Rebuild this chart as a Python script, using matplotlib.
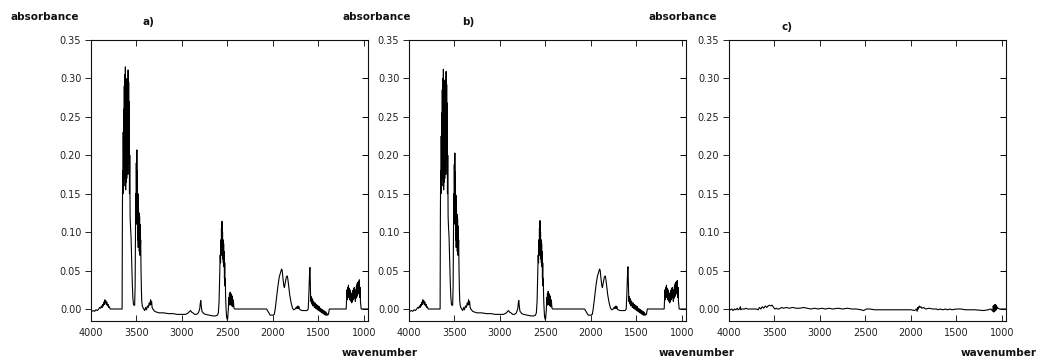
import matplotlib
matplotlib.use("Agg")
import matplotlib.pyplot as plt

# ---------------- data ----------------
wavenumber_ab = [
    # baseline + bump near 3850
    4000, 3990, 3975, 3960, 3945, 3930, 3915, 3905, 3895, 3885, 3878, 3870, 3864, 3858,
    3853, 3848, 3843, 3838, 3832, 3826, 3820, 3812, 3805, 3798, 3790, 3780, 3700, 3662,
    # first band (dense)
    3658, 3655, 3652, 3649, 3646, 3643, 3640, 3637, 3634, 3631, 3628, 3625, 3622, 3619,
    3616, 3613, 3610, 3607, 3604, 3601, 3598, 3595, 3592, 3589, 3586, 3583, 3580, 3577,
    3574, 3570, 3565, 3560, 3555, 3550, 3545, 3540, 3535, 3530, 3525,
    # second band (dense)
    3520, 3515, 3511, 3508, 3505, 3502, 3499, 3496, 3493, 3490, 3487, 3484, 3481, 3478,
    3475, 3472, 3469, 3466, 3463, 3460, 3457, 3454, 3450, 3446, 3442, 3436, 3430,
    # 3420 - 2600
    3420, 3410, 3400, 3390, 3380, 3370, 3360, 3352, 3345, 3340, 3334, 3328, 3320, 3300,
    3280, 3250, 3200, 3150, 3100, 3050, 3000, 2960, 2930, 2915, 2905, 2895, 2880, 2860,
    2840, 2820, 2805, 2798, 2793, 2788, 2780, 2760, 2740, 2700, 2660, 2630, 2610, 2600,
    # band near 2560 (dense)
    2592, 2586, 2580, 2576, 2572, 2569, 2566, 2563, 2560, 2557, 2554, 2551, 2548, 2545,
    2542, 2539, 2536, 2533, 2530, 2527, 2524, 2520, 2515, 2510, 2505, 2498,
    # small band near 2460
    2490, 2485, 2482, 2478, 2474, 2470, 2466, 2462, 2458, 2454, 2450, 2446, 2442, 2436,
    2428, 2420,
    # flat, dip, doublet near 1900
    2070, 2050, 2030, 2000, 1985, 1975, 1960, 1945, 1930, 1915, 1905, 1898, 1890, 1880,
    1874, 1868, 1860, 1852, 1842, 1835, 1825, 1815, 1800, 1785, 1770, 1755, 1745, 1740,
    1735, 1730, 1725, 1720, 1715, 1710, 1700, 1680, 1650, 1625, 1612,
    # sharp band near 1593 and dense decay
    1605, 1600, 1596, 1593, 1590, 1587, 1583, 1580, 1576, 1572, 1568, 1564, 1560, 1556,
    1550, 1544, 1538, 1532, 1526, 1520, 1514, 1508, 1502, 1496, 1490, 1484, 1478, 1472,
    1466, 1460, 1454, 1448, 1442, 1436, 1430, 1424, 1418, 1412, 1406, 1400, 1390, 1380,
    # flat + cluster 1190-1030
    1195, 1190, 1186, 1182, 1178, 1174, 1170, 1166, 1162, 1158, 1154, 1150, 1146, 1142,
    1138, 1134, 1130, 1126, 1122, 1118, 1114, 1110, 1106, 1102, 1098, 1094, 1090, 1086,
    1082, 1078, 1074, 1070, 1066, 1062, 1058, 1054, 1050, 1046, 1042, 1038, 1034, 1030,
    950,
]

absorbance_a = [
    -0.002, -0.003, -0.002, -0.003, -0.001, -0.002, 0.000, 0.002, 0.001, 0.004, 0.002, 0.006, 0.004, 0.009,
    0.006, 0.012, 0.008, 0.011, 0.006, 0.009, 0.004, 0.006, 0.002, 0.003, 0.000, 0.000, 0.000, 0.000,
    0.000, 0.120, 0.180, 0.150, 0.230, 0.170, 0.260, 0.180, 0.290, 0.170, 0.305, 0.160, 0.315, 0.155,
    0.300, 0.165, 0.295, 0.170, 0.290, 0.180, 0.300, 0.175, 0.311, 0.190, 0.295, 0.200, 0.270, 0.150,
    0.200, 0.120, 0.105, 0.095, 0.070, 0.050, 0.030, 0.015, 0.008, 0.005, 0.006,
    0.005, 0.030, 0.090, 0.150, 0.120, 0.190, 0.140, 0.207, 0.110, 0.180, 0.090, 0.150, 0.080, 0.130,
    0.085, 0.125, 0.075, 0.120, 0.070, 0.110, 0.080, 0.090, 0.050, 0.025, 0.010, 0.004, 0.002,
    0.000, -0.002, 0.002, -0.001, 0.004, 0.002, 0.008, 0.005, 0.012, 0.006, 0.010, 0.002, 0.000, -0.003,
    -0.004, -0.005, -0.005, -0.006, -0.006, -0.007, -0.007, -0.007, -0.005, -0.003, -0.002, -0.004, -0.005, -0.007,
    -0.007, -0.005, 0.000, 0.008, 0.011, 0.004, -0.003, -0.006, -0.007, -0.008, -0.009, -0.009, -0.008, -0.005,
    0.010, 0.040, 0.070, 0.060, 0.090, 0.070, 0.105, 0.080, 0.114, 0.075, 0.100, 0.065, 0.090, 0.060,
    0.085, 0.055, 0.075, 0.040, 0.060, 0.030, 0.040, 0.015, 0.000, -0.010, -0.013, -0.013,
    0.000, 0.015, 0.005, 0.020, 0.007, 0.022, 0.006, 0.020, 0.005, 0.018, 0.004, 0.016, 0.003, 0.012,
    0.001, 0.000,
    0.000, -0.004, -0.008, -0.008, -0.007, 0.000, 0.015, 0.030, 0.042, 0.048, 0.052, 0.050, 0.040, 0.030,
    0.028, 0.032, 0.038, 0.042, 0.043, 0.038, 0.028, 0.018, 0.008, 0.001, -0.001, 0.000, 0.002, 0.001,
    0.003, 0.001, 0.004, 0.001, 0.003, 0.000, -0.001, -0.002, -0.002, -0.002, 0.000,
    0.020, 0.040, 0.052, 0.054, 0.040, 0.020, 0.010, 0.016, 0.008, 0.014, 0.006, 0.012, 0.004, 0.010,
    0.009, 0.002, 0.008, 0.001, 0.006, 0.000, 0.005, -0.001, 0.004, -0.002, 0.003, -0.003, 0.001, -0.004,
    0.000, -0.005, -0.001, -0.006, -0.002, -0.007, -0.003, -0.008, -0.004, -0.008, -0.006, -0.008, -0.007, 0.000,
    0.000, 0.015, 0.025, 0.012, 0.028, 0.015, 0.031, 0.018, 0.027, 0.012, 0.025, 0.014, 0.022, 0.010,
    0.020, 0.008, 0.018, 0.010, 0.024, 0.012, 0.026, 0.014, 0.028, 0.015, 0.022, 0.010, 0.025, 0.014,
    0.030, 0.016, 0.033, 0.018, 0.035, 0.020, 0.036, 0.025, 0.038, 0.015, 0.028, 0.010, 0.005, 0.000,
    0.000,
]

# panel b is a replicate measurement of panel a
absorbance_b = [
    -0.002, -0.003, -0.002, -0.003, -0.001, -0.002, 0.000, 0.002, 0.001, 0.004, 0.002, 0.006, 0.004, 0.009,
    0.006, 0.012, 0.008, 0.011, 0.006, 0.009, 0.004, 0.006, 0.002, 0.003, 0.000, 0.000, 0.000, 0.000,
    0.000, 0.120, 0.180, 0.150, 0.225, 0.170, 0.255, 0.180, 0.285, 0.170, 0.300, 0.160, 0.312, 0.155,
    0.298, 0.165, 0.292, 0.170, 0.288, 0.180, 0.298, 0.175, 0.309, 0.190, 0.292, 0.200, 0.268, 0.150,
    0.200, 0.120, 0.105, 0.095, 0.070, 0.050, 0.030, 0.015, 0.008, 0.005, 0.006,
    0.005, 0.030, 0.090, 0.150, 0.120, 0.188, 0.140, 0.203, 0.110, 0.178, 0.090, 0.148, 0.080, 0.128,
    0.085, 0.123, 0.075, 0.118, 0.070, 0.108, 0.080, 0.090, 0.050, 0.025, 0.010, 0.004, 0.002,
    0.000, -0.002, 0.002, -0.001, 0.004, 0.002, 0.008, 0.005, 0.012, 0.006, 0.010, 0.002, 0.000, -0.003,
    -0.004, -0.005, -0.005, -0.006, -0.006, -0.007, -0.007, -0.007, -0.005, -0.003, -0.002, -0.004, -0.005, -0.007,
    -0.007, -0.005, 0.000, 0.008, 0.011, 0.004, -0.003, -0.006, -0.007, -0.008, -0.009, -0.009, -0.008, -0.005,
    0.010, 0.040, 0.070, 0.060, 0.090, 0.070, 0.105, 0.080, 0.115, 0.075, 0.100, 0.065, 0.090, 0.060,
    0.085, 0.055, 0.075, 0.040, 0.060, 0.030, 0.040, 0.015, 0.000, -0.010, -0.013, -0.013,
    0.000, 0.015, 0.005, 0.020, 0.007, 0.023, 0.006, 0.020, 0.005, 0.018, 0.004, 0.016, 0.003, 0.012,
    0.001, 0.000,
    0.000, -0.004, -0.008, -0.008, -0.007, 0.000, 0.015, 0.030, 0.042, 0.048, 0.052, 0.050, 0.040, 0.030,
    0.028, 0.032, 0.038, 0.042, 0.043, 0.038, 0.028, 0.018, 0.008, 0.001, -0.001, 0.000, 0.002, 0.001,
    0.003, 0.001, 0.004, 0.001, 0.003, 0.000, -0.001, -0.002, -0.002, -0.002, 0.000,
    0.020, 0.040, 0.052, 0.055, 0.040, 0.020, 0.010, 0.016, 0.008, 0.014, 0.006, 0.012, 0.004, 0.010,
    0.009, 0.002, 0.008, 0.001, 0.006, 0.000, 0.005, -0.001, 0.004, -0.002, 0.003, -0.003, 0.001, -0.004,
    0.000, -0.005, -0.001, -0.006, -0.002, -0.007, -0.003, -0.008, -0.004, -0.008, -0.006, -0.008, -0.007, 0.000,
    0.000, 0.015, 0.025, 0.012, 0.028, 0.015, 0.031, 0.018, 0.027, 0.012, 0.025, 0.014, 0.022, 0.010,
    0.020, 0.008, 0.018, 0.010, 0.024, 0.012, 0.026, 0.014, 0.028, 0.015, 0.022, 0.010, 0.025, 0.014,
    0.030, 0.016, 0.033, 0.018, 0.035, 0.020, 0.036, 0.025, 0.037, 0.015, 0.028, 0.010, 0.005, 0.000,
    0.000,
]

wavenumber_c = [
    4000, 3985, 3970, 3955, 3940, 3925, 3910, 3900, 3885, 3875, 3870, 3860, 3845, 3830,
    3815, 3800, 3780, 3700, 3680, 3665, 3650, 3635, 3620, 3600, 3585, 3570, 3555, 3540,
    3525, 3510, 3495, 3480, 3465, 3450, 3420, 3400, 3370, 3340, 3300, 3260, 3220, 3180,
    3140, 3100, 3060, 3020, 2980, 2940, 2900, 2860, 2800, 2750, 2700, 2650, 2600, 2550,
    2520, 2490, 2450, 2400, 2300, 2200, 2100, 2000, 1960, 1950, 1940, 1932, 1925, 1918,
    1910, 1900, 1890, 1880, 1860, 1840, 1800, 1760, 1720, 1700, 1680, 1650, 1620, 1600,
    1570, 1550, 1500, 1450, 1400, 1300, 1200, 1150, 1120, 1100, 1095, 1090, 1085, 1080,
    1075, 1070, 1065, 1060, 1055, 1050, 1040, 1030, 950,
]

absorbance_c = [
    0.000, -0.001, 0.000, -0.002, 0.000, -0.001, 0.001, -0.001, 0.000, 0.003, -0.001, 0.000, 0.000, 0.000,
    0.001, 0.000, 0.000, 0.000, -0.001, 0.002, 0.000, 0.003, 0.001, 0.004, 0.002, 0.004, 0.005, 0.004,
    0.005, 0.002, 0.000, 0.001, 0.000, 0.000, 0.002, 0.001, 0.002, 0.001, 0.002, 0.001, 0.001, 0.002,
    0.001, 0.000, 0.001, 0.000, 0.001, 0.000, 0.001, 0.000, 0.001, 0.000, 0.001, 0.000, 0.000, -0.001,
    -0.002, 0.000, 0.000, -0.001, -0.001, -0.001, -0.001, -0.001, -0.002, -0.001, 0.000, -0.003, 0.002, 0.000,
    0.004, 0.002, 0.003, 0.001, 0.002, 0.000, 0.001, 0.000, 0.000, -0.001, 0.000, -0.001, 0.000, -0.001,
    0.000, -0.001, 0.000, 0.000, -0.001, -0.001, -0.002, -0.001, 0.000, -0.003, 0.004, -0.004, 0.005, -0.003,
    0.006, -0.002, 0.005, -0.001, 0.003, 0.001, 0.001, 0.000, 0.000,
]

panel_labels = ["a)", "b)", "c)"]
ytick_values = [0.00, 0.05, 0.10, 0.15, 0.20, 0.25, 0.30, 0.35]
xtick_values = [4000, 3500, 3000, 2500, 2000, 1500, 1000]
ylabel_text = "absorbance"
xlabel_text = "wavenumber"

# ---------------- figure ----------------
W, H = 1039, 361
fig = plt.figure(figsize=(W / 100, H / 100), dpi=100)
fig.patch.set_facecolor("white")

lefts_px = [91, 409, 729]
ax_w_px = 277
top_px, bottom_px = 40, 321

series = [(wavenumber_ab, absorbance_a), (wavenumber_ab, absorbance_b), (wavenumber_c, absorbance_c)]
label_pos = [(148, 22), (468, 22), (787, 27)]
ylab_pos = [45, 377, 683]
xlab_pos = [(380, "center"), (697, "center"), (1037, "right")]

for i, (x, y) in enumerate(series):
    ax = fig.add_axes([lefts_px[i] / W, 1 - bottom_px / H, ax_w_px / W, (bottom_px - top_px) / H])
    ax.plot(x, y, color="black", lw=0.8)
    ax.set_xlim(4000, 955)
    ax.set_ylim(-0.0156, 0.35)
    ax.set_xticks(xtick_values)
    ax.set_xticklabels([str(v) for v in xtick_values])
    ax.set_yticks(ytick_values)
    ax.set_yticklabels([f"{v:.2f}" for v in ytick_values])
    for s in ax.spines.values():
        s.set_linewidth(0.8)
        s.set_color("#111111")
    ax.tick_params(axis="y", which="both", left=True, right=False, direction="out",
                   length=4, width=0.7, labelsize=7, colors="#222222", pad=3)
    ax.tick_params(axis="x", which="both", bottom=True, top=True, direction="in",
                   length=4, width=0.7, labelsize=7, colors="#222222", pad=5)
    # right-side inward ticks
    ax2 = ax.twinx()
    ax2.set_ylim(ax.get_ylim())
    ax2.set_yticks(ytick_values)
    ax2.tick_params(axis="y", right=True, direction="in", length=4, width=0.7,
                    labelright=False)
    for s in ax2.spines.values():
        s.set_visible(False)

    fig.text(ylab_pos[i] / W, 1 - 17 / H, ylabel_text, fontsize=7.5, fontweight="bold",
             ha="center", va="center", color="#111111")
    fig.text(label_pos[i][0] / W, 1 - label_pos[i][1] / H, panel_labels[i], fontsize=7.5,
             fontweight="bold", ha="center", va="center", color="#111111")
    fig.text(xlab_pos[i][0] / W, 1 - 353 / H, xlabel_text, fontsize=7.5, fontweight="bold",
             ha=xlab_pos[i][1], va="center", color="#111111")

fig.savefig("out.png", dpi=100, facecolor="white")
